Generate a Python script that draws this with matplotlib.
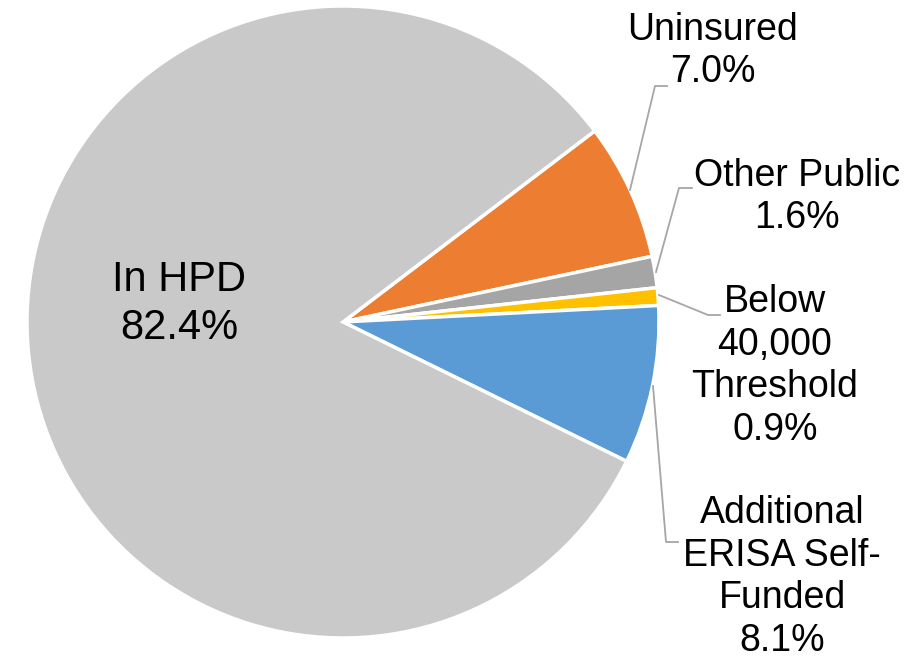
import matplotlib
matplotlib.use("Agg")
import matplotlib.pyplot as plt

plt.rcParams['font.family'] = ['Liberation Sans', 'DejaVu Sans']

categories = ["Uninsured", "Other Public", "Below\n40,000\nThreshold", "Additional\nERISA Self-\nFunded", "In HPD"]
values = [7.0, 1.6, 0.9, 8.1, 82.4]
colors = ["#ED7D31", "#A5A5A5", "#FFC000", "#5B9BD5", "#C9C9C9"]

W, H = 920, 660
cx, cy, R = 343, 322, 316
fig = plt.figure(figsize=(W / 100, H / 100), dpi=100)
ax = fig.add_axes([(cx - R) / W, (H - cy - R) / H, 2 * R / W, 2 * R / H])
ax.pie(values, colors=colors, startangle=37.2, counterclock=False, radius=1,
       wedgeprops=dict(edgecolor="white", linewidth=2.5))
ax.set_xlim(-1, 1)
ax.set_ylim(-1, 1)
ax.set_aspect("equal")
ax.axis("off")


def d(px, py):
    return ((px - cx) / R, (cy - py) / R)


def lab(i):
    return f"{categories[i]}\n{values[i]:.1f}%"


fs = 27
ls = 1.24
# label centres (pixel) and leader lines (pixel)
label_pos = [(713, 51), (797, 197), (775, 366), (782, 577)]
leaders = [
    [(630, 190), (655, 86), (667, 86)],
    [(656, 272), (679, 188), (692, 188)],
    [(659, 295), (708, 315), (720, 315)],
    [(653, 386), (666, 542), (678, 542)],
]
for i in range(4):
    x, y = d(*label_pos[i])
    ax.text(x, y, lab(i), ha="center", va="center", fontsize=fs,
            linespacing=ls, color="black")
    pts = [d(*p) for p in leaders[i]]
    ax.plot([p[0] for p in pts], [p[1] for p in pts], color="#A6A6A6",
            lw=1.3, clip_on=False)

x, y = d(179, 304)
ax.text(x, y, lab(4), ha="center", va="center", fontsize=30,
        linespacing=1.26, color="black")

fig.savefig("out.png", dpi=100)
